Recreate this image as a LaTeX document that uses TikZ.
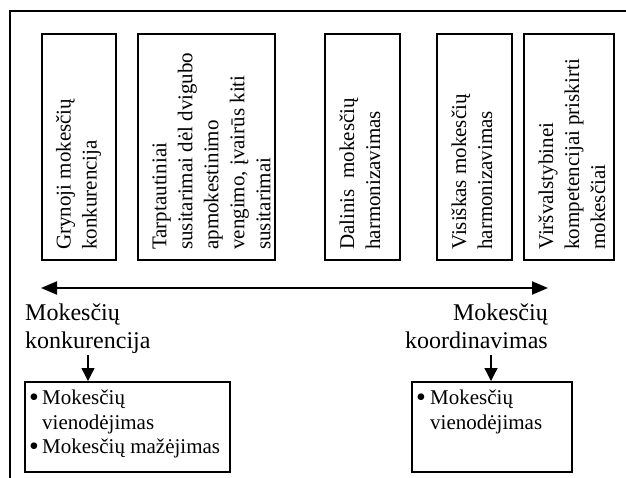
\documentclass[tikz,border=0pt]{standalone}
\usepackage{fontspec}
\setmainfont{Liberation Serif}
\usetikzlibrary{arrows.meta}
\newcommand{\bigbul}{\raisebox{-2pt}{\fontsize{28}{24.5}\selectfont\textbullet}}
\begin{document}
\begin{tikzpicture}[x=1pt,y=-1pt,
  frame/.style={line width=2pt},
  vbox/.style={draw, line width=2pt, rectangle, anchor=north west, inner sep=0pt, minimum height=226pt},
  vtext/.style={rotate=90, anchor=north west, inner sep=0pt, align=left, font=\fontsize{21}{26}\selectfont},
  lbl/.style={inner sep=0pt, font=\fontsize{24}{28}\selectfont},
  bbox/.style={draw, line width=2pt, rectangle, anchor=north west, inner sep=0pt, minimum height=90pt},
  btext/.style={anchor=north west, inner sep=0pt, align=left, font=\fontsize{21}{24.5}\selectfont},
  bigarrow/.style={line width=2pt, {Triangle[length=16pt,width=13pt]}-{Triangle[length=16pt,width=13pt]}},
  smallarrow/.style={line width=1.3pt, -{Triangle[length=13pt,width=13pt]}}
]
\useasboundingbox (0,0) rectangle (626,477);
% outer frame (partly visible)
\coordinate (fb) at (10,480);
\coordinate (fc) at (10,11);
\coordinate (fr) at (630,11);
\draw[frame] (fb) -- (fc) -- (fr);

% vertical boxes
\node[vbox, minimum width=74pt] (b1) at (41,33) {};
\node[vbox, minimum width=137pt] (b2) at (137,33) {};
\node[vbox, minimum width=75pt] (b3) at (324,33) {};
\node[vbox, minimum width=75pt] (b4) at (436,33) {};
\node[vbox, minimum width=90pt] (b5) at (523,33) {};

\node[vtext] (t1) at (55.7,250) {Grynoji mokesčių\\konkurencija};
\node[vtext] (t2) at (152.2,250) {Tarptautiniai\\susitarimai dėl dvigubo\\apmokestinimo\\vengimo, įvairūs kiti\\susitarimai};
\node[vtext] (t3) at (339.2,250) {Dalinis\ \ mokesčių\\harmonizavimas};
\node[vtext] (t4) at (451.2,250) {Visiškas mokesčių\\harmonizavimas};
\node[vtext] (t5) at (538.2,250) {Viršvalstybinei\\kompetencijai priskirti\\mokesčiai};

% main double arrow
\coordinate (aL) at (41,288);
\coordinate (aR) at (548,288);
\draw[bigarrow] (aL) -- (aR);

% labels
\node[lbl, anchor=north west, align=left] (lk) at (25,303.6) {Mokesčių\\konkurencija};
\node[lbl, anchor=north east, align=right] (rk) at (548,303.6) {Mokesčių\\koordinavimas};

% bottom boxes
\node[bbox, minimum width=205pt] (lb) at (24,381) {};
\node[bbox, minimum width=160pt] (rb) at (411,381) {};

\node[btext] (lbt) at (29,389.7) {\makebox[13pt][l]{\bigbul}Mokesčių\\\hspace*{13pt}vienodėjimas\\\makebox[13pt][l]{\bigbul}Mokesčių mažėjimas};
\node[btext] (rbt) at (416,389.7) {\makebox[14pt][l]{\bigbul}Mokesčių\\\hspace*{14pt}vienodėjimas};

% small arrows
\coordinate (s1) at (88,355);
\coordinate (s2) at (491,355);
\draw[smallarrow] (s1) -- (s1 |- lb.north);
\draw[smallarrow] (s2) -- (s2 |- rb.north);
\end{tikzpicture}
\end{document}
